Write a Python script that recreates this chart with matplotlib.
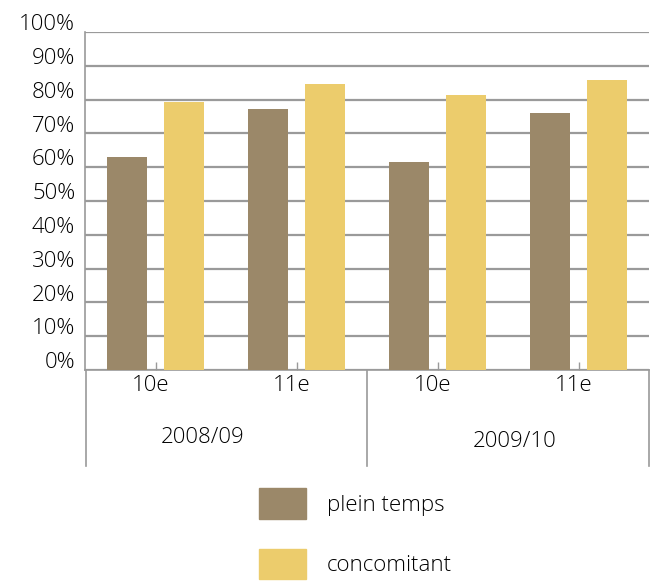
import matplotlib
matplotlib.use("Agg")
import matplotlib.pyplot as plt
import matplotlib.transforms as mtransforms
from matplotlib.patches import Patch
from matplotlib.ticker import PercentFormatter, MultipleLocator
import numpy as np

plt.rcParams['font.family'] = ['Open Sans', 'DejaVu Sans']
plt.rcParams['font.weight'] = 'light'

# data
grades = ["10e", "11e", "10e", "11e"]
years = ["2008/09", "2009/10"]
plein_temps = [0.629, 0.772, 0.614, 0.760]
concomitant = [0.792, 0.846, 0.813, 0.858]

brown = "#9B8869"
yellow = "#ECCC6C"
grid_c = "#9a9a9a"
txt_c = "#000000"
fs = 16

fig = plt.figure(figsize=(6.57, 5.82), dpi=100)
ax = fig.add_axes([85/657, 212/582, 564/657, 338/582])

x = np.arange(len(grades))
ax.bar(x - 0.199, plein_temps, width=0.284, color=brown, zorder=3, label="plein temps")
ax.bar(x + 0.199, concomitant, width=0.284, color=yellow, zorder=3, label="concomitant")

ax.set_xlim(-0.5, len(grades) - 0.5)
ax.set_ylim(0, 1)
ax.yaxis.set_major_locator(MultipleLocator(0.1))
ax.yaxis.set_major_formatter(PercentFormatter(1.0, decimals=0))
ax.grid(axis="y", color=grid_c, linewidth=1.6, zorder=0)
ax.set_axisbelow(True)

for s in ["top", "right"]:
    ax.spines[s].set_visible(False)
ax.spines["left"].set_color(grid_c)
ax.spines["bottom"].set_color(grid_c)
ax.spines["left"].set_linewidth(1.2)
ax.spines["bottom"].set_linewidth(1.2)

ax.set_xticks(x)
ax.set_xticklabels([])
ax.tick_params(axis="x", direction="in", length=6, color=grid_c, width=1)
ax.tick_params(axis="y", length=0, pad=7, labelsize=fs, labelcolor=txt_c)
# labels sit a bit above their gridlines in the original
shift = mtransforms.ScaledTranslation(0, 7/72, fig.dpi_scale_trans)
for lab in ax.get_yticklabels():
    lab.set_transform(lab.get_transform() + shift)

# multi-level category labels
trans = mtransforms.blended_transform_factory(ax.transData, ax.transAxes)
for xi, g in zip(x, grades):
    ax.text(xi - 0.035, -0.015, g, transform=trans, ha="center", va="top",
            fontsize=fs, color=txt_c)
ax.text(0.337, -0.17, years[0], transform=trans, ha="center", va="top",
        fontsize=fs, color=txt_c)
ax.text(2.55, -0.18, years[1], transform=trans, ha="center", va="top",
        fontsize=fs, color=txt_c)
for xb in [-0.493, 1.5, 3.5]:
    ax.plot([xb, xb], [0, -0.285], transform=trans, color=grid_c,
            linewidth=1.2, clip_on=False)

handles = [Patch(color=brown, label="plein temps"),
           Patch(color=yellow, label="concomitant")]
fig.legend(handles=handles, loc="upper left",
           bbox_to_anchor=(259/657, 1 - 488/582), frameon=False,
           fontsize=fs, handlelength=2.1, handleheight=1.75,
           handletextpad=0.95, labelspacing=1.35, borderpad=0,
           borderaxespad=0, labelcolor=txt_c)

fig.savefig("out.png", dpi=100)
